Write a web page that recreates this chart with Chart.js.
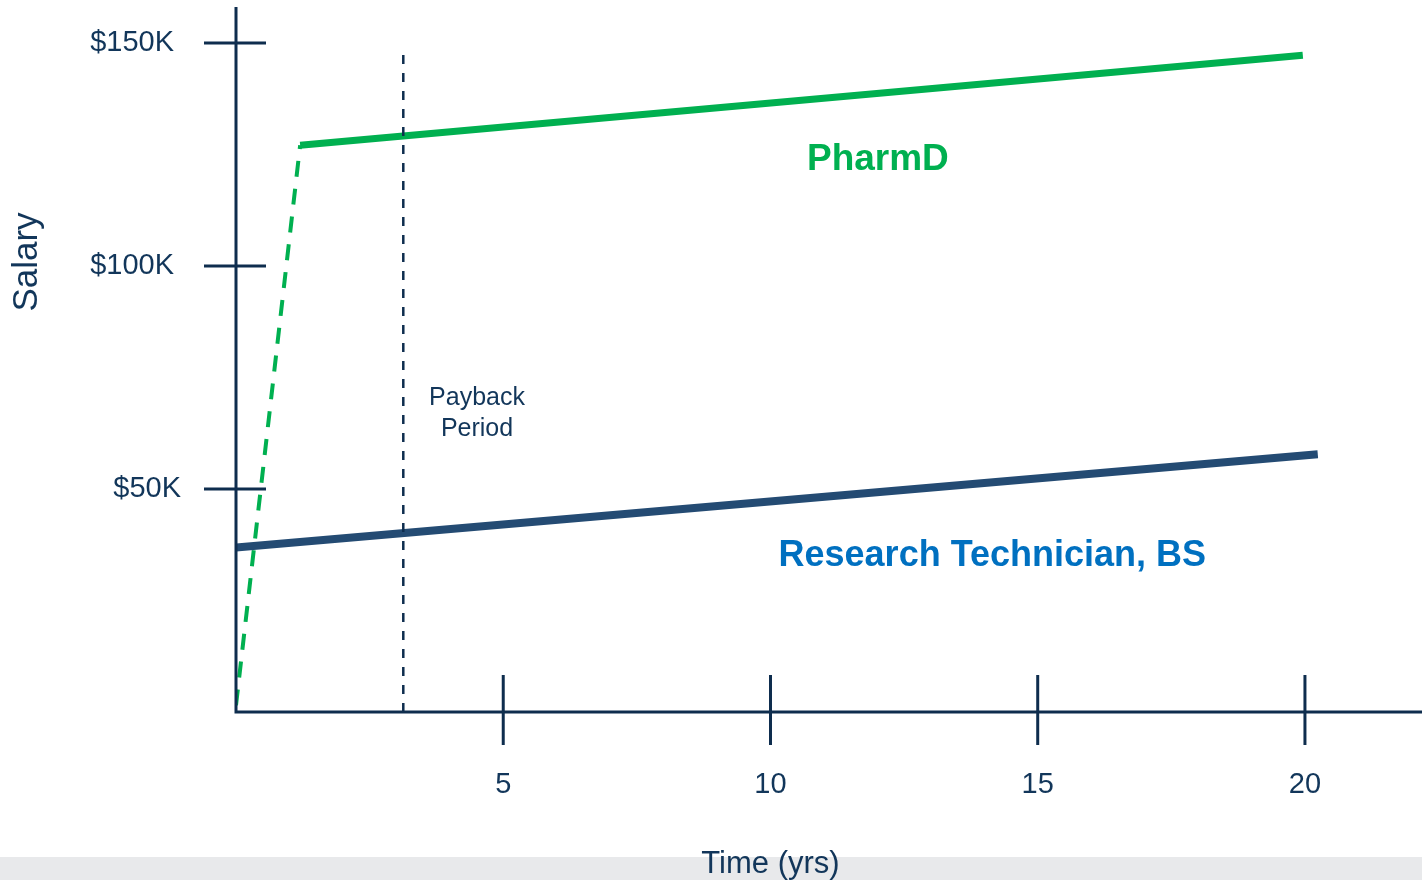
<!DOCTYPE html>
<html>
<head>
<meta charset="utf-8">
<title>Salary over time</title>
<script src="https://cdn.jsdelivr.net/npm/chart.js@4/dist/chart.umd.min.js"></script>
<style>
  html, body { margin: 0; padding: 0; background: #fff; }
  #wrap { width: 1422px; height: 880px; position: relative; }
</style>
</head>
<body>
<div id="wrap"><canvas id="salaryChart" width="1422" height="880"></canvas></div>
<script>
(function() {
  'use strict';

  // Data (years, $K)
  const pharmdRamp = [{ x: 0, y: 1.5 }, { x: 1.2, y: 127.1 }];
  const pharmdSalary = [{ x: 1.2, y: 127.1 }, { x: 19.96, y: 147.3 }];
  const techSalary = [{ x: 0, y: 36.9 }, { x: 20.24, y: 57.8 }];
  const paybackYear = 3.13;
  const paybackLine = [{ x: paybackYear, y: 0 }, { x: paybackYear, y: 148.9 }];

  const xTickValues = [5, 10, 15, 20];
  const xTickLabels = ['5', '10', '15', '20'];
  const yTickValues = [50, 100, 150];
  const yTickLabels = ['$50K', '$100K', '$150K'];

  const xMax = 22.19;
  const yMax = 158.1;

  // Colors
  const navy = '#0e2d4e';
  const textNavy = '#12365a';
  const green = '#00b050';
  const techBlue = '#244b73';
  const labelBlue = '#0070c0';

  // Draw axes, ticks and text through the chart scales
  const axesPlugin = {
    id: 'customAxes',
    beforeDraw(chart) {
      const ctx = chart.ctx;
      ctx.save();
      ctx.fillStyle = '#e8e9eb';
      ctx.fillRect(0, 857, chart.width, chart.height - 857);
      ctx.restore();
    },
    afterDatasetsDraw(chart) {
      const ctx = chart.ctx;
      const xs = chart.scales.x;
      const ys = chart.scales.y;
      const x0 = xs.getPixelForValue(0);
      const y0 = ys.getPixelForValue(0);

      ctx.save();
      ctx.strokeStyle = navy;
      ctx.lineWidth = 3;
      ctx.lineCap = 'butt';

      // axis lines
      ctx.beginPath();
      ctx.moveTo(x0, ys.getPixelForValue(yMax));
      ctx.lineTo(x0, y0);
      ctx.lineTo(xs.getPixelForValue(xMax), y0);
      ctx.stroke();

      // y ticks (cross the axis)
      ctx.font = '29px "Liberation Sans", Arial, sans-serif';
      ctx.fillStyle = textNavy;
      ctx.textAlign = 'right';
      ctx.textBaseline = 'middle';
      yTickValues.forEach((v, i) => {
        const py = ys.getPixelForValue(v);
        ctx.beginPath();
        ctx.moveTo(x0 - 32, py);
        ctx.lineTo(x0 + 30, py);
        ctx.stroke();
        // the $50K label sits a little closer to the axis
        const gap = v === 50 ? 55 : 62;
        ctx.fillText(yTickLabels[i], x0 - gap, py);
      });

      // x ticks
      ctx.textAlign = 'center';
      xTickValues.forEach((v, i) => {
        const px = xs.getPixelForValue(v);
        ctx.beginPath();
        ctx.moveTo(px, y0 - 37);
        ctx.lineTo(px, y0 + 33);
        ctx.stroke();
        ctx.fillText(xTickLabels[i], px, y0 + 73);
      });

      // axis titles
      ctx.font = '31px "Liberation Sans", Arial, sans-serif';
      ctx.fillText('Time (yrs)', (x0 + xs.getPixelForValue(20)) / 2, 864);

      ctx.save();
      ctx.translate(27, 262);
      ctx.rotate(-Math.PI / 2);
      ctx.font = '35px "Liberation Sans", Arial, sans-serif';
      ctx.fillText('Salary', 0, 0);
      ctx.restore();

      // annotations
      ctx.font = '25px "Liberation Sans", Arial, sans-serif';
      ctx.fillStyle = textNavy;
      ctx.fillText('Payback', xs.getPixelForValue(4.51), ys.getPixelForValue(70.4));
      ctx.fillText('Period', xs.getPixelForValue(4.51), ys.getPixelForValue(63.5));

      ctx.font = 'bold 37px "Liberation Sans", Arial, sans-serif';
      ctx.fillStyle = green;
      ctx.fillText('PharmD', xs.getPixelForValue(12.01), ys.getPixelForValue(123.8));

      ctx.font = 'bold 36px "Liberation Sans", Arial, sans-serif';
      ctx.fillStyle = labelBlue;
      ctx.fillText('Research Technician, BS', xs.getPixelForValue(14.15), ys.getPixelForValue(35.0));

      ctx.restore();
    }
  };

  const ctx = document.getElementById('salaryChart');

  new Chart(ctx, {
    type: 'line',
    data: {
      datasets: [
        {
          label: 'Payback',
          data: paybackLine,
          borderColor: navy,
          borderWidth: 2.5,
          borderDash: [9, 9],
          pointRadius: 0
        },
        {
          label: 'Research Technician, BS',
          data: techSalary,
          borderColor: techBlue,
          borderWidth: 8,
          pointRadius: 0
        },
        {
          label: 'PharmD (school)',
          data: pharmdRamp,
          borderColor: green,
          borderWidth: 4,
          borderDash: [16, 12],
          pointRadius: 0
        },
        {
          label: 'PharmD',
          data: pharmdSalary,
          borderColor: green,
          borderWidth: 7,
          pointRadius: 0,
          borderJoinStyle: 'miter'
        }
      ]
    },
    options: {
      responsive: false,
      animation: false,
      devicePixelRatio: 1,
      layout: {
        padding: { left: 236, right: 0, top: 7, bottom: 168 }
      },
      plugins: {
        legend: { display: false },
        tooltip: { enabled: false }
      },
      scales: {
        x: { type: 'linear', min: 0, max: xMax, display: false },
        y: { type: 'linear', min: 0, max: yMax, display: false }
      }
    },
    plugins: [axesPlugin]
  });
})();
</script>
</body>
</html>
